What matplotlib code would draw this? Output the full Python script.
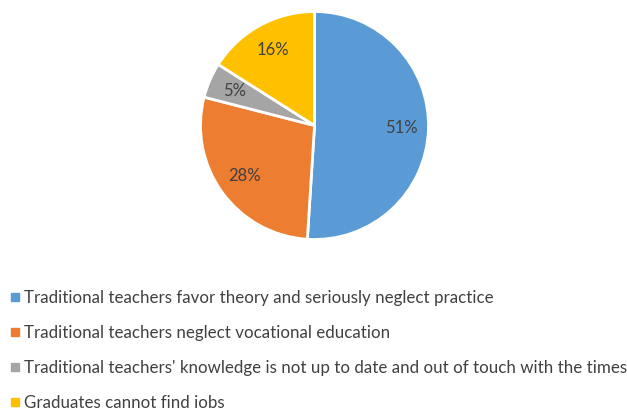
import matplotlib
matplotlib.use("Agg")
import matplotlib.pyplot as plt
from matplotlib.lines import Line2D

# ── data ──
labels = [
    "Traditional teachers favor theory and seriously neglect practice",
    "Traditional teachers neglect vocational education",
    "Traditional teachers' knowledge is not up to date and out of touch with the times",
    "Graduates cannot find jobs",
]
shares = [51, 28, 5, 16]
colors = ["#5B9BD5", "#ED7D31", "#A5A5A5", "#FFC000"]

W, H = 627, 408
fig = plt.figure(figsize=(W / 100, H / 100), dpi=100)

# pie area: centre ~(314,126) px, radius ~114 px
cx, cy, r = 314.5, 125.5, 114
ax = fig.add_axes([(cx - r) / W, (H - cy - r) / H, 2 * r / W, 2 * r / H])
wedges, texts, autotexts = ax.pie(
    shares, colors=colors, startangle=90, counterclock=False,
    autopct=lambda p: f"{p:.0f}%", pctdistance=0.76,
    wedgeprops=dict(edgecolor="white", linewidth=2),
    textprops=dict(fontsize=12, color="#404040", family="Lato"),
)
ax.set_xlim(-1, 1)
ax.set_ylim(-1, 1)
ax.set_aspect("equal")

# legend under the pie
handles = [Line2D([], [], marker="s", linestyle="none", markersize=5.5,
                  markerfacecolor=c, markeredgecolor=c) for c in colors]
leg = fig.legend(handles, labels, loc="upper left",
                 bbox_to_anchor=(3 / W, 1 - 283 / H),
                 frameon=False, handlelength=0.6, handletextpad=0.25,
                 labelspacing=1.12, borderaxespad=0,
                 prop=dict(family="Lato", size=12.2))
for t in leg.get_texts():
    t.set_color("#404040")

plt.savefig("out.png", dpi=100)
